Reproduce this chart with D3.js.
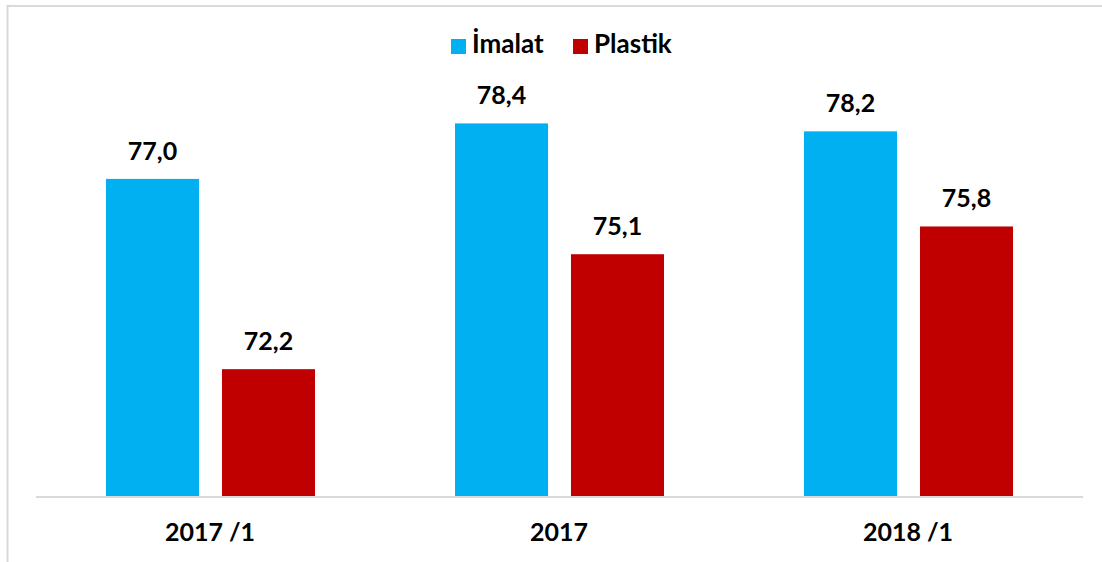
<!DOCTYPE html>
<html>
<head>
<meta charset="utf-8">
<script src="https://cdn.jsdelivr.net/npm/d3@7"></script>
<style>
	body { margin: 0; background: #fff; }
	svg { display: block; }
</style>
</head>
<body>
<div id="chart"></div>
<script>
const categories = ["2017 /1", "2017", "2018 /1"];
const seriesNames = ["İmalat", "Plastik"];
const imalat = [77.0, 78.4, 78.2];
const plastik = [72.2, 75.1, 75.8];
const colors = ["#00B0F0", "#C00000"];

const W = 1102, H = 562;
const font = "Lato, 'Liberation Sans', sans-serif";

const svg = d3.select("#chart")
	.append("svg")
	.attr("width", W)
	.attr("height", H);

// chart frame (only top and left edges are visible)
svg.append("line")
	.attr("x1", 7.5).attr("x2", W).attr("y1", 6).attr("y2", 6)
	.attr("stroke", "#d9d9d9").attr("stroke-width", 2);
svg.append("line")
	.attr("x1", 7.5).attr("x2", 7.5).attr("y1", 5).attr("y2", H)
	.attr("stroke", "#d9d9d9").attr("stroke-width", 2);

const x0 = d3.scaleBand()
	.domain(categories)
	.range([36, 1083])
	.padding(0);

const x1 = d3.scaleBand()
	.domain(seriesNames)
	.range([70, 279])
	.paddingInner(0.198);

const y = d3.scaleLinear()
	.domain([69, 80])
	.range([496, 60]);

const data = categories.map((c, i) => ({
	cat: c,
	values: [
		{ key: seriesNames[0], v: imalat[i] },
		{ key: seriesNames[1], v: plastik[i] },
	],
}));

const color = d3.scaleOrdinal().domain(seriesNames).range(colors);

const groups = svg.selectAll("g.grp")
	.data(data)
	.join("g")
	.attr("class", "grp")
	.attr("transform", (d) => `translate(${x0(d.cat)},0)`);

groups.selectAll("rect")
	.data((d) => d.values)
	.join("rect")
	.attr("x", (d) => x1(d.key))
	.attr("y", (d) => y(d.v))
	.attr("width", x1.bandwidth())
	.attr("height", (d) => y(69) - y(d.v))
	.attr("fill", (d) => color(d.key));

groups.selectAll("text.val")
	.data((d) => d.values)
	.join("text")
	.attr("class", "val")
	.attr("x", (d) => x1(d.key) + x1.bandwidth() / 2)
	.attr("y", (d) => y(d.v) - 19)
	.attr("text-anchor", "middle")
	.style("font-family", font)
	.style("font-weight", "bold")
	.style("font-size", "25px")
	.attr("fill", "#000")
	.text((d) => d3.format(".1f")(d.v).replace(".", ","));

// x axis line
svg.append("line")
	.attr("x1", x0.range()[0]).attr("x2", x0.range()[1])
	.attr("y1", y(69) + 1).attr("y2", y(69) + 1)
	.attr("stroke", "#d9d9d9").attr("stroke-width", 2);

// category labels
svg.selectAll("text.cat")
	.data(categories)
	.join("text")
	.attr("class", "cat")
	.attr("x", (d) => x0(d) + x0.bandwidth() / 2 - 0.5)
	.attr("y", 541)
	.attr("text-anchor", "middle")
	.style("font-family", font)
	.style("font-weight", "bold")
	.style("font-size", "25px")
	.attr("fill", "#000")
	.text((d) => d);

// legend
const legendX = [451, 573];
const legend = svg.selectAll("g.leg")
	.data(seriesNames)
	.join("g")
	.attr("class", "leg")
	.attr("transform", (d, i) => `translate(${legendX[i]},0)`);
legend.append("rect")
	.attr("x", 0).attr("y", 39)
	.attr("width", 15).attr("height", 15)
	.attr("fill", (d) => color(d));
legend.append("text")
	.attr("x", 21).attr("y", 53)
	.style("font-family", font)
	.style("font-weight", "bold")
	.style("font-size", "26px")
	.attr("fill", "#000")
	.text((d) => d);
</script>
</body>
</html>
